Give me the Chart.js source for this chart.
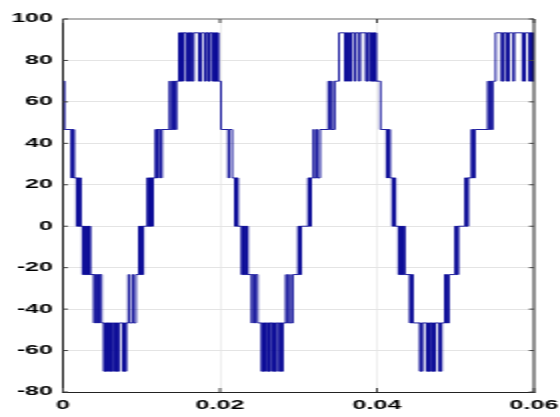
<!DOCTYPE html>
<html><head><meta charset="utf-8">
<script src="https://cdn.jsdelivr.net/npm/chart.js@4/dist/chart.umd.min.js"></script>
<style>html,body{margin:0;padding:0;background:#fff;overflow:hidden}</style></head>
<body><canvas id="c" width="280" height="417" style="display:block;width:560px;height:417px"></canvas>
<script>
// Output voltage levels (index = step + 3)
const LEVELS = [-70, -46.67, -23.33, 0, 23.33, 46.67, 70, 93.33];
const X_TICKS = [0, 0.02, 0.04, 0.06];
const X_TICK_LABELS = ['0', '0.02', '0.04', '0.06'];
const Y_TICKS = [-80, -60, -40, -20, 0, 20, 40, 60, 80, 100];

// switching events: [time in ms, level step]
const cycle1 = [
[0,3],[0.19,2],
[1.08,1],[1.17,2],[1.25,1],[1.32,2],[1.40,1],
[1.75,0],[1.83,1],[1.92,0],[2.01,1],[2.10,0],[2.19,1],[2.25,0],
[2.51,-1],[2.60,0],[2.69,-1],[2.78,0],[2.87,-1],[3.04,0],[3.12,-1],[3.21,0],[3.30,-1],[3.39,0],[3.46,-1],
[3.95,-2],[4.05,-1],[4.27,-2],[4.37,-1],[4.59,-2],[4.69,-1],[4.90,-2],
[5.22,-3],[5.31,-2],[5.40,-3],[5.49,-2],[5.58,-3],[5.64,-2],
[5.86,-3],[5.95,-2],[6.04,-3],[6.13,-2],[6.22,-3],[6.34,-2],
[6.62,-3],[6.71,-2],[6.80,-3],[6.89,-2],[6.98,-3],[7.11,-2],
[7.61,-3],[7.69,-2],[7.78,-3],[7.87,-2],[7.96,-3],[8.04,-2],
[8.34,-1],[8.45,-2],[8.85,-1],[8.96,-2],[9.27,-1],
[9.68,0],[9.77,-1],[9.86,0],[9.95,-1],[10.04,0],[10.13,-1],[10.22,0],
[10.76,1],[10.85,0],[10.94,1],[11.03,0],[11.12,1],[11.21,0],[11.30,1],[11.39,0],[11.46,1],
[11.81,2],[11.89,1],[11.97,2],[12.06,1],[12.15,2],[12.48,1],[12.59,2],
[13.59,3],[13.68,2],[13.94,3],[14.03,2],[14.23,3],[14.32,2],[14.45,3],
[14.78,4],[14.87,3],[14.95,4],[15.04,3],[15.13,4],[15.22,3],[15.29,4],
[15.67,3],[15.80,4],
[16.05,3],[16.15,4],[16.20,3],[16.28,4],
[16.52,3],[16.65,4],
[17.33,3],[17.41,4],[17.50,3],[17.63,4],
[18.09,3],[18.22,4],
[18.47,3],[18.56,4],[18.64,3],[18.73,4],
[19.07,3],[19.16,4],[19.25,3],[19.34,4],[19.43,3],[19.52,4],[19.60,3],[19.69,4],[19.78,3]
];
const cycle2 = [
[20.13,2],
[21.06,1],[21.16,2],[21.55,1],
[21.91,0],[22.00,1],[22.09,0],[22.18,1],[22.27,0],
[22.76,-1],[22.85,0],[22.94,-1],[23.03,0],[23.12,-1],[23.25,0],[23.34,-1],[23.43,0],[23.53,-1],
[24.04,-2],[24.14,-1],[24.40,-2],[24.50,-1],[24.78,-2],
[25.31,-3],[25.40,-2],[25.49,-3],[25.58,-2],[25.67,-3],[25.73,-2],
[26.03,-3],[26.12,-2],[26.21,-3],[26.30,-2],[26.35,-3],[26.40,-2],
[26.72,-3],[26.81,-2],[26.90,-3],[26.99,-2],[27.08,-3],[27.20,-2],
[27.56,-3],[27.65,-2],[27.73,-3],[27.82,-2],[27.91,-3],[27.99,-2],
[28.41,-1],[28.51,-2],[28.85,-1],[28.96,-2],[29.28,-1],
[29.97,0],[30.06,-1],[30.15,0],[30.24,-1],[30.33,0],
[31.25,1],[31.34,0],[31.42,1],[31.51,0],[31.59,1],
[31.91,2],[32.02,1],[32.33,2],[32.44,1],[32.74,2],
[33.82,3],[33.92,2],[34.18,3],[34.28,2],[34.62,3],
[35.16,4],
[35.92,3],[36.01,4],[36.10,3],[36.19,4],
[36.43,3],[36.53,4],[36.69,3],[36.78,4],
[37.20,3],[37.30,4],
[37.75,3],[37.84,4],
[38.60,3],[38.69,4],[38.79,3],[38.89,4],
[39.20,3],[39.29,4],[39.38,3],[39.47,4],[39.55,3],[39.64,4],[39.73,3],[39.81,4],[39.87,3]
];
const cycle3 = [
[40.45,2],
[41.24,1],[41.32,2],[41.41,1],[41.50,2],[41.66,1],
[41.97,0],[42.06,1],[42.15,0],[42.24,1],[42.33,0],
[42.76,-1],[42.85,0],[42.94,-1],[43.03,0],[43.12,-1],[43.25,0],[43.34,-1],[43.43,0],[43.53,-1],
[44.20,-2],[44.29,-1],[44.38,-2],[44.47,-1],[44.56,-2],
[45.48,-3],[45.57,-2],[45.66,-3],[45.78,-2],
[46.33,-3],[46.42,-2],[46.51,-3],[46.60,-2],[46.69,-3],[46.77,-2],
[46.97,-3],[47.06,-2],[47.15,-3],[47.24,-2],[47.33,-3],[47.41,-2],
[47.94,-3],[48.03,-2],[48.12,-3],[48.22,-2],
[48.66,-1],[48.75,-2],[48.84,-1],[48.93,-2],[49.17,-1],
[49.98,0],[50.07,-1],[50.16,0],[50.25,-1],[50.34,0],
[51.25,1],[51.34,0],[51.43,1],[51.52,0],[51.59,1],
[52.06,2],[52.15,1],[52.24,2],[52.33,1],[52.46,2],
[54.14,3],[54.24,2],[54.46,3],[54.56,2],[54.75,3],
[55.12,4],
[55.88,3],[55.97,4],[56.06,3],[56.16,4],
[56.52,3],[56.61,4],[56.71,3],[56.81,4],
[57.36,3],[57.48,4],
[58.56,3],[58.65,4],[58.75,3],[58.85,4],
[59.40,3],[59.49,4],[59.58,3],[59.67,4],[59.76,3],[59.85,4],[59.94,3],[60,3]
];

const points = cycle1.concat(cycle2, cycle3).map(([t, s]) => ({ x: t / 1000, y: LEVELS[s + 3] }));

const FONT = { family: "'Liberation Sans', Arial, sans-serif", size: 12.5, weight: 'bold' };

const frame = {
  id: 'frame',
  afterDraw(chart) {
    const { ctx, chartArea: a, scales: { x, y } } = chart;
    ctx.save();
    ctx.strokeStyle = '#9a9a9a'; ctx.lineWidth = 1.5;
    ctx.beginPath(); ctx.moveTo(a.left, a.top); ctx.lineTo(a.right, a.top); ctx.stroke();
    ctx.strokeStyle = '#222'; ctx.lineWidth = 1;
    ctx.beginPath(); ctx.moveTo(a.right, a.top); ctx.lineTo(a.right, a.bottom); ctx.stroke();
    ctx.strokeStyle = '#444';
    ctx.beginPath();
    Y_TICKS.forEach(v => {
      const py = y.getPixelForValue(v);
      ctx.moveTo(a.left, py); ctx.lineTo(a.left + 2.5, py);
      ctx.moveTo(a.right, py); ctx.lineTo(a.right - 2.5, py);
    });
    X_TICKS.forEach(v => {
      const px = x.getPixelForValue(v);
      ctx.moveTo(px, a.bottom); ctx.lineTo(px, a.bottom - 4);
      ctx.moveTo(px, a.top); ctx.lineTo(px, a.top + 4);
    });
    ctx.stroke();
    ctx.restore();
  }
};

const canvas = document.getElementById('c');
new Chart(canvas, {
  type: 'line',
  data: { datasets: [{
    data: points, stepped: true, borderColor: '#0a0a96', borderWidth: 0.9,
    pointRadius: 0, fill: false, tension: 0
  }] },
  options: {
    responsive: false, animation: false, devicePixelRatio: 1,
    layout: { padding: { left: 4.5, top: 19, right: 0, bottom: 1 } },
    plugins: { legend: { display: false }, tooltip: { enabled: false } },
    scales: {
      x: {
        type: 'linear', min: 0, max: 0.06,
        afterBuildTicks: s => { s.ticks = X_TICKS.map(v => ({ value: v })); },
        afterFit: s => { s.height = 24; s.paddingRight = 13; s.paddingLeft = 0; },
        ticks: { autoSkip: false, maxRotation: 0, padding: 6, color: '#000', font: FONT,
          callback: (v) => X_TICK_LABELS[X_TICKS.indexOf(v)] },
        grid: { drawTicks: false, color: c => (c.tick && (c.tick.value === 0 || c.tick.value === 0.06)) ? 'rgba(0,0,0,0)' : '#e4e4e4', lineWidth: 0.6 },
        border: { color: '#222', width: 1 }
      },
      y: {
        min: -80, max: 100,
        afterBuildTicks: s => { s.ticks = Y_TICKS.map(v => ({ value: v })); },
        afterFit: s => { s.width = 27; },
        ticks: { padding: 5, color: '#000', font: FONT },
        grid: { drawTicks: false, color: c => (c.tick && (c.tick.value === 100 || c.tick.value === -80)) ? 'rgba(0,0,0,0)' : '#e4e4e4', lineWidth: 1 },
        border: { color: '#222', width: 1 }
      }
    }
  },
  plugins: [frame]
});
canvas.style.width = '560px';
canvas.style.height = '417px';
</script>
</body></html>
